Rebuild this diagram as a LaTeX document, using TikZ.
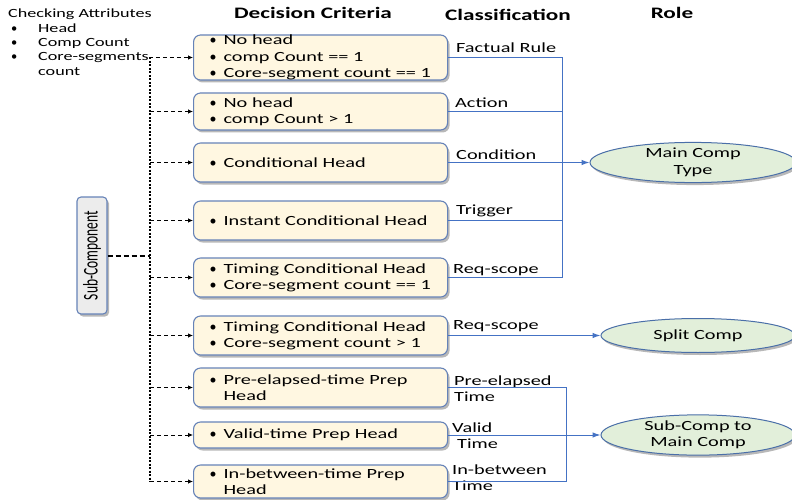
\documentclass[tikz,border=0pt]{standalone}
\usepackage{fontspec}
\setmainfont{Carlito}[FakeStretch=1.45]
\newfontfamily\uprightfont{Carlito}
\usetikzlibrary{arrows.meta,shapes.geometric,shadows}

\definecolor{boxfill}{HTML}{FFF7E1}
\definecolor{boxline}{HTML}{6683B8}
\definecolor{wireblue}{HTML}{4472C4}
\definecolor{ellfill}{HTML}{E2EFDA}
\definecolor{ellline}{HTML}{4A6FA8}
\definecolor{subfill}{HTML}{ECECEC}

% small round bullet, not widened by the stretched main font
\newcommand\bmark{{\uprightfont\textbullet}}
\newcommand\bul[1]{\makebox[16pt][l]{\hspace*{2pt}\bmark}#1}
\newcommand\cont[1]{\hspace*{16pt}#1}
\newcommand\lbul[1]{\makebox[28pt][l]{\hspace*{1pt}\bmark}#1}

\tikzset{
  softshadow/.style={drop shadow={shadow xshift=2pt,shadow yshift=-2.5pt,fill=black,opacity=0.28}},
  critbox/.style={draw=boxline, fill=boxfill, line width=1.1pt, rounded corners=7pt,
    anchor=west, minimum width=254pt, text width=226pt, inner xsep=14pt, inner ysep=0pt,
    align=left, font=\fontsize{14}{16.3}\selectfont, softshadow},
  rolebox/.style={ellipse, draw=ellline, fill=ellfill, line width=1pt, inner sep=0pt,
    align=center, font=\fontsize{14}{16.5}\selectfont, softshadow},
  subcbox/.style={draw=boxline, fill=subfill, line width=1.1pt, rounded corners=4pt,
    minimum width=30pt, minimum height=117pt, inner sep=0pt, softshadow},
  tag/.style={anchor=west, inner sep=0pt, align=left, font=\fontsize{14}{16}\selectfont},
  attr/.style={anchor=west, inner sep=0pt, font=\fontsize{12.5}{14}\selectfont},
  colhead/.style={inner sep=0pt, font=\bfseries\fontsize{16}{18}\selectfont},
  wire/.style={draw=wireblue, line width=1pt},
  wirearrow/.style={wire, -{Latex[length=8pt,width=5.5pt]}},
  feed/.style={-{Latex[length=5pt,width=4.5pt]}, dash pattern=on 4pt off 3pt, line width=0.8pt},
  spine/.style={dash pattern=on 2pt off 1.5pt, line width=1.6pt},
  trunk/.style={dash pattern=on 5pt off 3pt, line width=2pt},
}

\begin{document}
\begin{tikzpicture}[x=1pt,y=-1pt]
\fill[white] (0,0) rectangle (792,500);
\useasboundingbox (0,0) rectangle (792,500);

% column headings
\node[colhead] (hcrit) at (313,13) {Decision Criteria};
\node[colhead] (hclass) at (508,15) {Classification};
\node[colhead] (hrole) at (672,13) {Role};

% attribute list
\node[attr] (a0) at (8,14) {Checking Attributes};
\node[attr] (a1) at (10,28.5) {\lbul{Head}};
\node[attr] (a2) at (10,43) {\lbul{Comp Count}};
\node[attr] (a3) at (10,57.5) {\lbul{Core-segments}};
\node[attr] (a4) at (38,72) {count};

% decision criteria boxes
\node[critbox, minimum height=45pt] (b1) at (193,57.5) {\bul{No head}\\\bul{comp Count == 1}\\\bul{Core-segment count == 1}};
\node[critbox, minimum height=37pt] (b2) at (193,111.5) {\bul{No head}\\\bul{comp Count > 1}};
\node[critbox, minimum height=39pt] (b3) at (193,162.5) {\bul{Conditional Head}};
\node[critbox, minimum height=39pt] (b4) at (193,220.5) {\bul{Instant Conditional Head}};
\node[critbox, minimum height=39pt] (b5) at (193,277.5) {\bul{Timing Conditional Head}\\\bul{Core-segment count == 1}};
\node[critbox, minimum height=39pt] (b6) at (193,335.5) {\bul{Timing Conditional Head}\\\bul{Core-segment count > 1}};
\node[critbox, minimum height=39pt] (b7) at (193,387.5) {\bul{Pre-elapsed-time Prep}\\\cont{Head}};
\node[critbox, minimum height=26pt] (b8) at (193,435) {\bul{Valid-time Prep Head}};
\node[critbox, minimum height=33pt] (b9) at (193,481.5) {\bul{In-between-time Prep}\\\cont{Head}};

% sub-component source
\node[subcbox] (subc) at (92,255.5) {\rotatebox{90}{\scalebox{1}[1.55]{\uprightfont\fontsize{13.5}{13.5}\selectfont Sub-Component}}};

% dashed feeds into the criteria
\coordinate (sp) at (150,0);
\draw[spine] (a3.east -| sp) -- (b9.west -| sp);
\draw[trunk] (subc.east) -- (subc.east -| sp);
\draw[feed] (a3.east) -- (a3.east -| b1.west);
\foreach \k in {2,...,9} {
  \draw[feed] (b\k.west -| sp) -- (b\k.west);
}

% classification labels
\node[tag] (t1) at (456,48) {Factual Rule};
\node[tag] (t2) at (455,103) {Action};
\node[tag] (t3) at (456,155) {Condition};
\node[tag] (t4) at (456,211) {Trigger};
\node[tag] (t5) at (453,270) {Req-scope};
\node[tag] (t6) at (453,326) {Req-scope};
\node[tag] (t7) at (454,389) {Pre-elapsed\\Time};
\node[tag] (t8) at (452,436) {Valid\\\hspace*{5pt}Time};
\node[tag] (t9) at (452,478) {In-between\\Time};

% roles
\node[rolebox, minimum width=206pt, minimum height=35pt] (mc) at (693,162.5) {Main Comp\\Type};
\node[rolebox, minimum width=194pt, minimum height=34pt] (sc) at (698,335.5) {Split Comp};
\node[rolebox, minimum width=194pt, minimum height=33pt] (sm) at (698,435) {Sub-Comp to\\Main Comp};

% blue connectors, first group
\coordinate (j1) at (562,0);
\draw[wire] (b1.east) -| (j1 |- b5.east) -- (b5.east);
\draw[wire] (b2.east) -- (b2.east -| j1);
\draw[wire] (b4.east) -- (b4.east -| j1);
\draw[wirearrow] (b3.east) -- (mc.west);

% split comp
\draw[wirearrow] (b6.east) -- (sc.west);

% blue connectors, second group
\coordinate (j2) at (566,0);
\draw[wire] (b7.east) -| (j2 |- b9.east) -- (b9.east);
\draw[wirearrow] (b8.east) -- (sm.west);
\end{tikzpicture}
\end{document}
